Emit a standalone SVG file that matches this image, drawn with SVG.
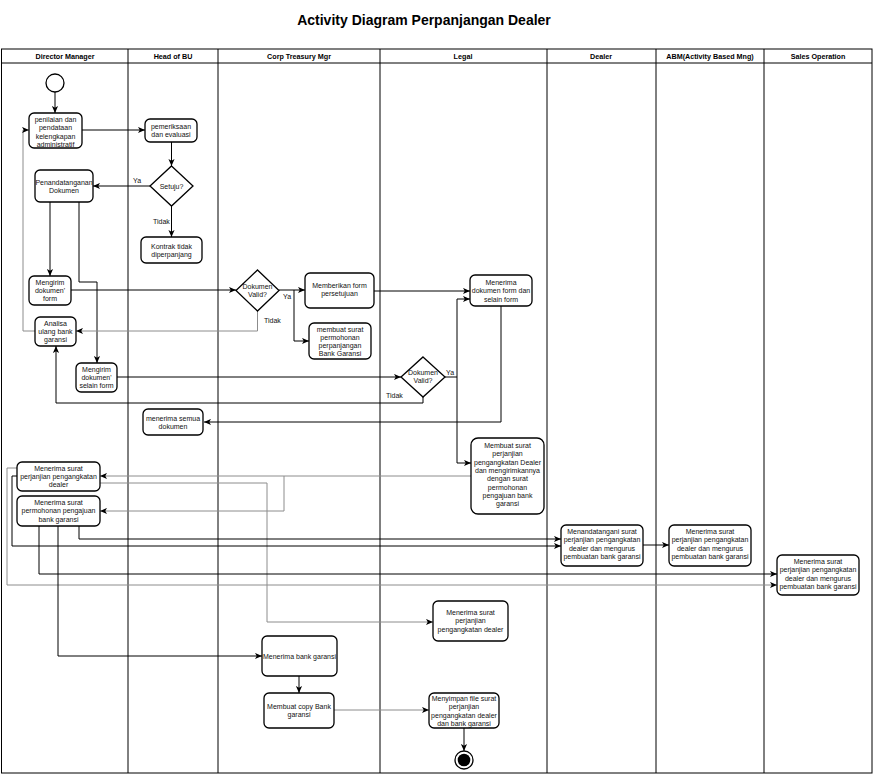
<svg xmlns="http://www.w3.org/2000/svg" width="874" height="776" viewBox="0 0 874 776">
<defs>
<marker id="ah" viewBox="0 0 8 8" refX="8" refY="4" markerWidth="7" markerHeight="7" markerUnits="userSpaceOnUse" orient="auto">
<path d="M0,0.5 L8,4 L0,7.5 L2,4 Z" fill="#000"/>
</marker>
<style>
.lane{fill:none;stroke:#000;stroke-width:1}
.hdr{font-family:"Liberation Sans",Arial,sans-serif;font-size:7.2px;font-weight:bold;text-anchor:middle;fill:#000}
.node rect{fill:#fff;stroke:#000;stroke-width:1.3}
.dia{fill:#fff;stroke:#000;stroke-width:1.3}
.t{font-family:"Liberation Sans",Arial,sans-serif;font-size:7px;text-anchor:middle;fill:#111}
.lbl{font-family:"Liberation Sans",Arial,sans-serif;font-size:7px;fill:#111}
.c{fill:none;stroke:#000;stroke-width:1;marker-end:url(#ah)}
.g{stroke:#8c8c8c}
</style>
</defs>
<rect width="874" height="776" fill="#fff"/>
<text x="424" y="25" font-family="Liberation Sans, Arial, sans-serif" font-size="14" font-weight="bold" text-anchor="middle">Activity Diagram Perpanjangan Dealer</text>
<g id="lanes">
<rect class="lane" x="1.5" y="49" width="870.5" height="724"/>
<line class="lane" x1="1.5" y1="63" x2="872" y2="63"/>
<line class="lane" x1="128" y1="49" x2="128" y2="773"/>
<line class="lane" x1="218" y1="49" x2="218" y2="773"/>
<line class="lane" x1="380" y1="49" x2="380" y2="773"/>
<line class="lane" x1="547" y1="49" x2="547" y2="773"/>
<line class="lane" x1="656" y1="49" x2="656" y2="773"/>
<line class="lane" x1="764" y1="49" x2="764" y2="773"/>
<text class="hdr" x="65" y="59">Director Manager</text>
<text class="hdr" x="173" y="59">Head of BU</text>
<text class="hdr" x="299" y="59">Corp Treasury Mgr</text>
<text class="hdr" x="463" y="59">Legal</text>
<text class="hdr" x="601" y="59">Dealer</text>
<text class="hdr" x="710" y="59">ABM(Activity Based Mng)</text>
<text class="hdr" x="818" y="59">Sales Operation</text>
</g>
<g id="connectors">
<path class="c" d="M55,92 V113"/>
<path class="c" d="M82,130 H145"/>
<path class="c" d="M171.5,142 V166"/>
<path class="c" d="M150,186 H93"/>
<path class="c" d="M171.5,206 V237"/>
<path class="c" d="M50,202 V276"/>
<path class="c" d="M79,202 V282 H97 V363"/>
<path class="c" d="M71,290 H236"/>
<path class="c" d="M279,290 H305"/>
<path class="c" d="M294,290 V341 H309"/>
<path class="c g" d="M257.5,311 V331 H76"/>
<path class="c g" d="M35,331 H23 V130 H29"/>
<path class="c" d="M374,291 H470"/>
<path class="c" d="M117,377 H401"/>
<path class="c" d="M445,377 H457 V299 H470"/>
<path class="c" d="M457,377 V463 H471"/>
<path class="c" d="M423,397 V403 H56 V346"/>
<path class="c" d="M501,306 V422 H204"/>
<path class="c g" d="M471,476 H100"/>
<path class="c g" d="M284,476 V511 H100"/>
<path class="c g" d="M100,483 H267 V622 H433"/>
<path class="c g" d="M17,468 H7 V585 H777"/>
<path class="c" d="M17,476 H12 V546 H561"/>
<path class="c" d="M79,526 V539 H561"/>
<path class="c" d="M39,526 V574 H777"/>
<path class="c" d="M58,526 V656 H262"/>
<path class="c" d="M643,545 H669"/>
<path class="c" d="M299,676 V693"/>
<path class="c g" d="M334,710 H429"/>
<path class="c" d="M464,728 V751"/>
<text class="lbl" x="133" y="183">Ya</text>
<text class="lbl" x="153" y="224">Tidak</text>
<text class="lbl" x="283" y="299">Ya</text>
<text class="lbl" x="264" y="323">Tidak</text>
<text class="lbl" x="446" y="375">Ya</text>
<text class="lbl" x="386" y="398">Tidak</text>
</g>
<g id="start"><circle cx="55" cy="83" r="9" fill="#fff" stroke="#000" stroke-width="1.3"/></g>
<g id="end"><circle cx="464" cy="760" r="9" fill="#fff" stroke="#000" stroke-width="1.3"/><circle cx="464" cy="760" r="6.3" fill="#000"/></g>
<g id="n1" class="node"><rect x="29" y="113" width="53" height="35" rx="5"/><text class="t"><tspan x="55.5" y="122">penilaian dan</tspan><tspan x="55.5" y="130.3">pendataan</tspan><tspan x="55.5" y="138.6">kelengkapan</tspan><tspan x="55.5" y="146.9">administratif</tspan></text></g>
<g id="n2" class="node"><rect x="145" y="119" width="52" height="23" rx="5"/><text class="t"><tspan x="171" y="129">pemeriksaan</tspan><tspan x="171" y="137.3">dan evaluasi</tspan></text></g>
<g id="d1"><polygon class="dia" points="171.5,166 193,186 171.5,206 150,186"/><text class="t" x="171.5" y="188.7">Setuju?</text></g>
<g id="n3" class="node"><rect x="35" y="170" width="58" height="32" rx="5"/><text class="t"><tspan x="64" y="184.5">Penandatanganan</tspan><tspan x="64" y="192.8">Dokumen</tspan></text></g>
<g id="n4" class="node"><rect x="141" y="237" width="61" height="26" rx="5"/><text class="t"><tspan x="171.5" y="248.5">Kontrak tidak</tspan><tspan x="171.5" y="256.8">diperpanjang</tspan></text></g>
<g id="n5" class="node"><rect x="29" y="276" width="42" height="29" rx="5"/><text class="t"><tspan x="50" y="284.5">Mengirim</tspan><tspan x="50" y="292.8">dokumen'</tspan><tspan x="50" y="301.1">form</tspan></text></g>
<g id="n6" class="node"><rect x="35" y="317" width="41" height="29" rx="5"/><text class="t"><tspan x="55.5" y="325.5">Analisa</tspan><tspan x="55.5" y="333.8">ulang bank</tspan><tspan x="55.5" y="342.1">garansi</tspan></text></g>
<g id="n7" class="node"><rect x="76" y="363" width="41" height="29" rx="5"/><text class="t"><tspan x="96.5" y="371.5">Mengirim</tspan><tspan x="96.5" y="379.8">dokumen'</tspan><tspan x="96.5" y="388.1">selain form</tspan></text></g>
<g id="n8" class="node"><rect x="143" y="409" width="60" height="26" rx="5"/><text class="t"><tspan x="173" y="420.5">menerima semua</tspan><tspan x="173" y="428.8">dokumen</tspan></text></g>
<g id="d2"><polygon class="dia" points="257.5,270 279,290.5 257.5,311 236,290.5"/><text class="t"><tspan x="257.5" y="288.5">Dokumen</tspan><tspan x="257.5" y="296.8">Valid?</tspan></text></g>
<g id="n9" class="node"><rect x="305" y="273" width="69" height="35" rx="5"/><text class="t"><tspan x="339.5" y="288">Memberikan form</tspan><tspan x="339.5" y="296.3">persetujuan</tspan></text></g>
<g id="n10" class="node"><rect x="309" y="323" width="62" height="36" rx="5"/><text class="t"><tspan x="340" y="331.5">membuat surat</tspan><tspan x="340" y="339.8">permohonan</tspan><tspan x="340" y="348.1">perpanjangan</tspan><tspan x="340" y="356.4">Bank Garansi</tspan></text></g>
<g id="n11" class="node"><rect x="470" y="275" width="62" height="31" rx="5"/><text class="t"><tspan x="501" y="285">Menerima</tspan><tspan x="501" y="293.3">dokumen form dan</tspan><tspan x="501" y="301.6">selain form</tspan></text></g>
<g id="d3"><polygon class="dia" points="423,357 445,377 423,397 401,377"/><text class="t"><tspan x="423" y="375">Dokumen</tspan><tspan x="423" y="383.3">Valid?</tspan></text></g>
<g id="n12" class="node"><rect x="471" y="438" width="73" height="76" rx="7"/><text class="t"><tspan x="507.5" y="448">Membuat surat</tspan><tspan x="507.5" y="456.3">perjanjian</tspan><tspan x="507.5" y="464.6">pengangkatan Dealer</tspan><tspan x="507.5" y="472.9">dan mengirimkannya</tspan><tspan x="507.5" y="481.2">dengan surat</tspan><tspan x="507.5" y="489.5">permohonan</tspan><tspan x="507.5" y="497.8">pengajuan bank</tspan><tspan x="507.5" y="506.1">garansi</tspan></text></g>
<g id="n13" class="node"><rect x="17" y="462" width="83" height="29" rx="5"/><text class="t"><tspan x="58.5" y="470.5">Menerima surat</tspan><tspan x="58.5" y="478.8">perjanjian pengangkatan</tspan><tspan x="58.5" y="487.1">dealer</tspan></text></g>
<g id="n14" class="node"><rect x="17" y="496" width="83" height="30" rx="5"/><text class="t"><tspan x="58.5" y="505">Menerima surat</tspan><tspan x="58.5" y="513.3">permohonan pengajuan</tspan><tspan x="58.5" y="521.6">bank garansi</tspan></text></g>
<g id="n15" class="node"><rect x="561" y="525" width="82" height="41" rx="5"/><text class="t"><tspan x="602" y="534">Menandatangani surat</tspan><tspan x="602" y="542.3">perjanjian pengangkatan</tspan><tspan x="602" y="550.6">dealer dan mengurus</tspan><tspan x="602" y="558.9">pembuatan bank garansi</tspan></text></g>
<g id="n16" class="node"><rect x="669" y="525" width="82" height="41" rx="5"/><text class="t"><tspan x="710" y="534">Menerima surat</tspan><tspan x="710" y="542.3">perjanjian pengangkatan</tspan><tspan x="710" y="550.6">dealer dan mengurus</tspan><tspan x="710" y="558.9">pembuatan bank garansi</tspan></text></g>
<g id="n17" class="node"><rect x="777" y="555" width="82" height="40" rx="5"/><text class="t"><tspan x="818" y="564">Menerima surat</tspan><tspan x="818" y="572.3">perjanjian pengangkatan</tspan><tspan x="818" y="580.6">dealer dan mengurus</tspan><tspan x="818" y="588.9">pembuatan bank garansi</tspan></text></g>
<g id="n18" class="node"><rect x="433" y="601" width="75" height="40" rx="5"/><text class="t"><tspan x="470.5" y="615">Menerima surat</tspan><tspan x="470.5" y="623.3">perjanjian</tspan><tspan x="470.5" y="631.6">pengangkatan dealer</tspan></text></g>
<g id="n19" class="node"><rect x="262" y="636" width="75" height="40" rx="5"/><text class="t" x="299.5" y="658.7">Menerima bank garansi</text></g>
<g id="n20" class="node"><rect x="264" y="693" width="70" height="35" rx="5"/><text class="t"><tspan x="299" y="709">Membuat copy Bank</tspan><tspan x="299" y="717.3">garansi</tspan></text></g>
<g id="n21" class="node"><rect x="429" y="693" width="70" height="35" rx="5"/><text class="t"><tspan x="464" y="701">Menyimpan file surat</tspan><tspan x="464" y="709.3">perjanjian</tspan><tspan x="464" y="717.6">pengangkatan dealer</tspan><tspan x="464" y="725.9">dan bank garansi</tspan></text></g>
</svg>
